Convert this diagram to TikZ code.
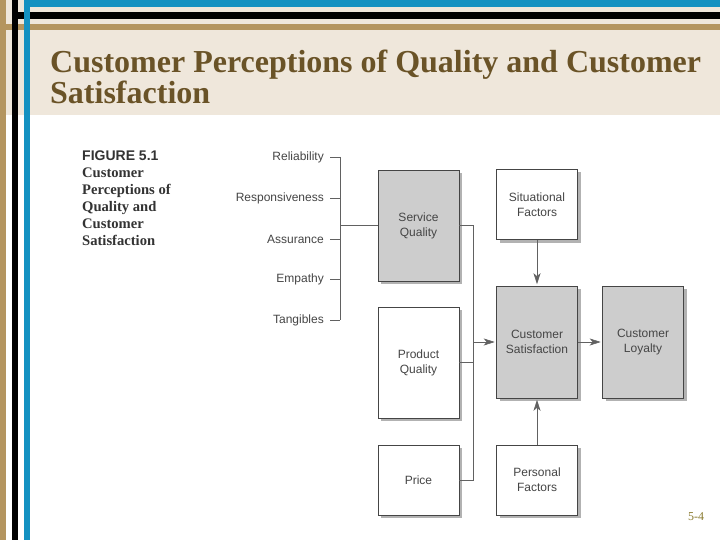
\documentclass[tikz,border=0pt]{standalone}
\usepackage{fontspec}
\setmainfont{Liberation Serif}
\setsansfont{Liberation Sans}
\usetikzlibrary{arrows.meta,shadows}
\definecolor{slideblue}{HTML}{1491C1}
\definecolor{slidetan}{HTML}{B4955F}
\definecolor{slidecream}{HTML}{EFE7DB}
\definecolor{titlebrown}{HTML}{6A5327}
\definecolor{figgray}{HTML}{454545}
\definecolor{boxgray}{HTML}{CDCDCD}
\definecolor{pagenum}{HTML}{8A7B30}

\begin{document}
\begin{tikzpicture}[x=1pt,y=-1pt,>={Stealth[length=11pt,width=7pt,inset=3pt]},
  box/.style={draw=figgray,line width=0.6pt,fill=white,minimum width=81pt,
    inner sep=0pt,align=center,font=\sffamily\fontsize{12}{15}\selectfont,
    text=figgray,drop shadow={shadow xshift=3pt,shadow yshift=-3pt,opacity=.3,fill=black}},
  graybox/.style={box,fill=boxgray},
  dimlbl/.style={font=\sffamily\fontsize{12}{14}\selectfont,text=figgray,
    anchor=east,inner sep=0pt},
  conn/.style={draw=figgray!85,line width=0.6pt}]
  \useasboundingbox (0,0) rectangle (720,540);
  % slide background and frame bars
  \fill[white] (0,0) rectangle (720,540);
  \fill[slidecream] (0,0) rectangle (720,115);
  \fill[slidetan] (0,24) rectangle (720,30);
  \fill[slidetan] (0,0) rectangle (6,540);
  \fill[black] (12,12) rectangle (720,19);
  \fill[black] (12,0) rectangle (18,540);
  \fill[slideblue] (24,0) rectangle (720,7);
  \fill[slideblue] (24,0) rectangle (30,540);
  % title
  \node[anchor=base west,inner sep=0pt,text=titlebrown,
    font=\bfseries\fontsize{32}{32}\selectfont] (title1) at (50,73)
    {Customer Perceptions of Quality and Customer};
  \node[anchor=base west,inner sep=0pt,text=titlebrown,
    font=\bfseries\fontsize{32}{32}\selectfont] (title2) at (50,104)
    {Satisfaction};
  % figure caption
  \node[anchor=base west,inner sep=0pt,text=black!80,
    font=\sffamily\bfseries\fontsize{14}{14}\selectfont] (fig) at (82,161) {FIGURE 5.1};
  \node[anchor=north west,inner sep=0pt,align=left,text=black!80,
    font=\bfseries\fontsize{14.6}{17}\selectfont] (caption) at (82,168)
    {Customer\\Perceptions of\\Quality and\\Customer\\Satisfaction};
  % service quality dimensions
  \coordinate (spine) at (340,0);
  \node[dimlbl] (rel) at (324,157) {Reliability};
  \node[dimlbl] (resp) at (324,198) {Responsiveness};
  \node[dimlbl] (assur) at (324,239) {Assurance};
  \node[dimlbl] (emp) at (324,279) {Empathy};
  \node[dimlbl] (tang) at (324,320) {Tangibles};
  \foreach \d in {rel,resp,assur,emp,tang}
    \draw[conn] ([xshift=6pt]\d.east) -- (\d.east -| spine);
  \draw[conn] (rel.east -| spine) -- (tang.east -| spine);
  % boxes
  \node[graybox,minimum height=111pt] (sq) at (418.5,225.5) {Service\\Quality};
  \node[box,minimum height=111pt] (pq) at (418.5,362.5) {Product\\Quality};
  \node[box,minimum height=70pt] (price) at (418.5,480) {Price};
  \node[box,minimum height=70pt] (sit) at (537,204.5) {Situational\\Factors};
  \node[graybox,minimum height=112pt] (cs) at (537,342) {Customer\\Satisfaction};
  \node[graybox,minimum height=112pt] (cl) at (643,342) {Customer\\Loyalty};
  \node[box,minimum height=70pt] (pf) at (537,480) {Personal\\Factors};
  % connectors
  \draw[conn] (spine |- sq.west) -- (sq.west);
  \coordinate (bus) at (473,0);
  \draw[conn] (sq.east) -- (sq.east -| bus) -- (price.east -| bus) -- (price.east);
  \draw[conn] (pq.east) -- (pq.east -| bus);
  \draw[conn,->,shorten >=1.5pt] (cs.west -| bus) -- (cs.west);
  \draw[conn,->,shorten >=1.5pt] (sit.south) -- (cs.north);
  \draw[conn,->,shorten >=1.5pt] (pf.north) -- (cs.south);
  \draw[conn,->,shorten >=1.5pt] (cs.east) -- (cl.west);
  % slide number
  \node[text=pagenum,inner sep=0pt,font=\fontsize{12}{12}\selectfont] (num) at (696,517) {5-4};
\end{tikzpicture}
\end{document}
